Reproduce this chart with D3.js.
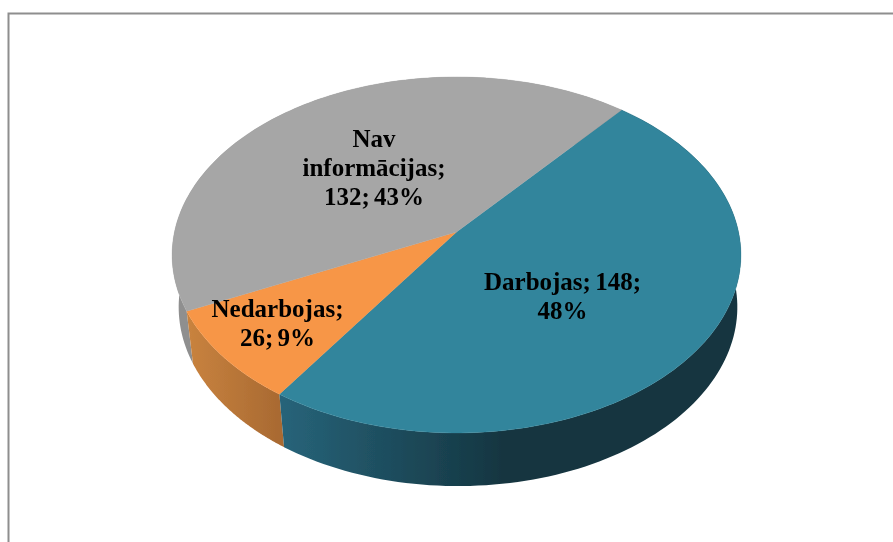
<!DOCTYPE html>
<html><head><meta charset="utf-8">
<style>html,body{margin:0;padding:0;background:#fff;overflow:hidden}svg{display:block}</style>
<script src="https://cdn.jsdelivr.net/npm/d3@7"></script></head>
<body><svg id="c" width="893" height="542"></svg>
<script>
const categories = ["Darbojas", "Nedarbojas", "Nav informācijas"];
const values = [148, 26, 132];
const percents = ["48%", "9%", "43%"];
const topColors = ["#31859c", "#f79646", "#a6a6a6"];
const sideStops = [
  [["#27647a", 0], ["#14343f", 0.5], ["#15343f", 1]],
  [["#c9833f", 0], ["#a96a32", 1]],
  [["#8f8f8f", 0], ["#8f8f8f", 1]]
];
const labelLines = [["Darbojas; 148;", "48%"], ["Nedarbojas;", "26; 9%"], ["Nav", "informācijas;", "132; 43%"]];
const labelCenters = [[562.5, 297], [277.5, 324], [374, 168.5]];

const svg = d3.select("#c");
const defs = svg.append("defs");
const W = 893, H = 542;
defs.append("filter").attr("id", "soft").attr("x", "-5%").attr("y", "-5%").attr("width", "110%").attr("height", "110%")
  .append("feGaussianBlur").attr("stdDeviation", 0.4);

// frame
svg.append("path").attr("d", `M8.5 ${H}V13.5H${W}`).attr("fill", "none").attr("stroke", "#8e8e8e").attr("stroke-width", 2);

// perspective projection of the pie plane
const cx = 456.5, cyTop = 232, a = 282, b = 175, p = 0.129;
const cxBot = 458, cyBot = 284, aBot = 277, bBot = 176, pBot = 0.129;
const proj = (t, r, cx0, cy0, a0, b0, p0) => {
  const x = r * Math.sin(t), y = -r * Math.cos(t), w = 1 - p0 * y;
  return [cx0 + a0 * x / w, cy0 + b0 * y / w];
};
const topPt = (t, r = 1) => proj(t, r, cx, cyTop, a, b, p);
const botPt = (t, r = 1) => proj(t, r, cxBot, cyBot, aBot, bBot, pBot);

const start = 40 * Math.PI / 180;
const pie = d3.pie().sort(null).startAngle(start).endAngle(start + 2 * Math.PI);
const arcs = pie(values);
const line = d3.line();
const sample = (s, e) => d3.range(0, 121).map(i => s + (e - s) * i / 120);
const chart = svg.append("g").attr("filter", "url(#soft)");

arcs.forEach((d, i) => {
  const g = defs.append("linearGradient").attr("id", "side" + i).attr("gradientUnits", "userSpaceOnUse");
  const ts = sample(d.startAngle, d.endAngle);
  const xs = ts.map(t => topPt(t)[0]);
  g.attr("x1", d3.min(xs)).attr("x2", d3.max(xs)).attr("y1", 0).attr("y2", 0);
  sideStops[i].forEach(([c, o]) => g.append("stop").attr("offset", o).attr("stop-color", c));
});

// sides (back to front: extruded wall of each slice)
const order = [2, 1, 0];
order.forEach(i => {
  const d = arcs[i];
  const ts = sample(d.startAngle, d.endAngle);
  const poly = ts.map(t => topPt(t)).concat(ts.slice().reverse().map(t => botPt(t)));
  chart.append("path").attr("d", line(poly) + "Z").attr("fill", `url(#side${i})`);
});
// tops
arcs.forEach((d, i) => {
  const ts = sample(d.startAngle, d.endAngle);
  const poly = [topPt(0, 0)].concat(ts.map(t => topPt(t)));
  chart.append("path").attr("d", line(poly) + "Z").attr("fill", topColors[i]).attr("stroke", topColors[i]).attr("stroke-width", 0.4);
});
// labels
labelLines.forEach((lines, i) => {
  const t = chart.append("text").attr("text-anchor", "middle")
    .attr("font-family", "'Liberation Serif', serif").attr("font-weight", "bold")
    .attr("font-size", 25).attr("word-spacing", -2).attr("fill", "#000");
  lines.forEach((s, j) => t.append("tspan").attr("x", labelCenters[i][0]).attr("y", labelCenters[i][1] - (lines.length - 1) * 14.5 + j * 29 + 7).text(s));
});
</script></body></html>
